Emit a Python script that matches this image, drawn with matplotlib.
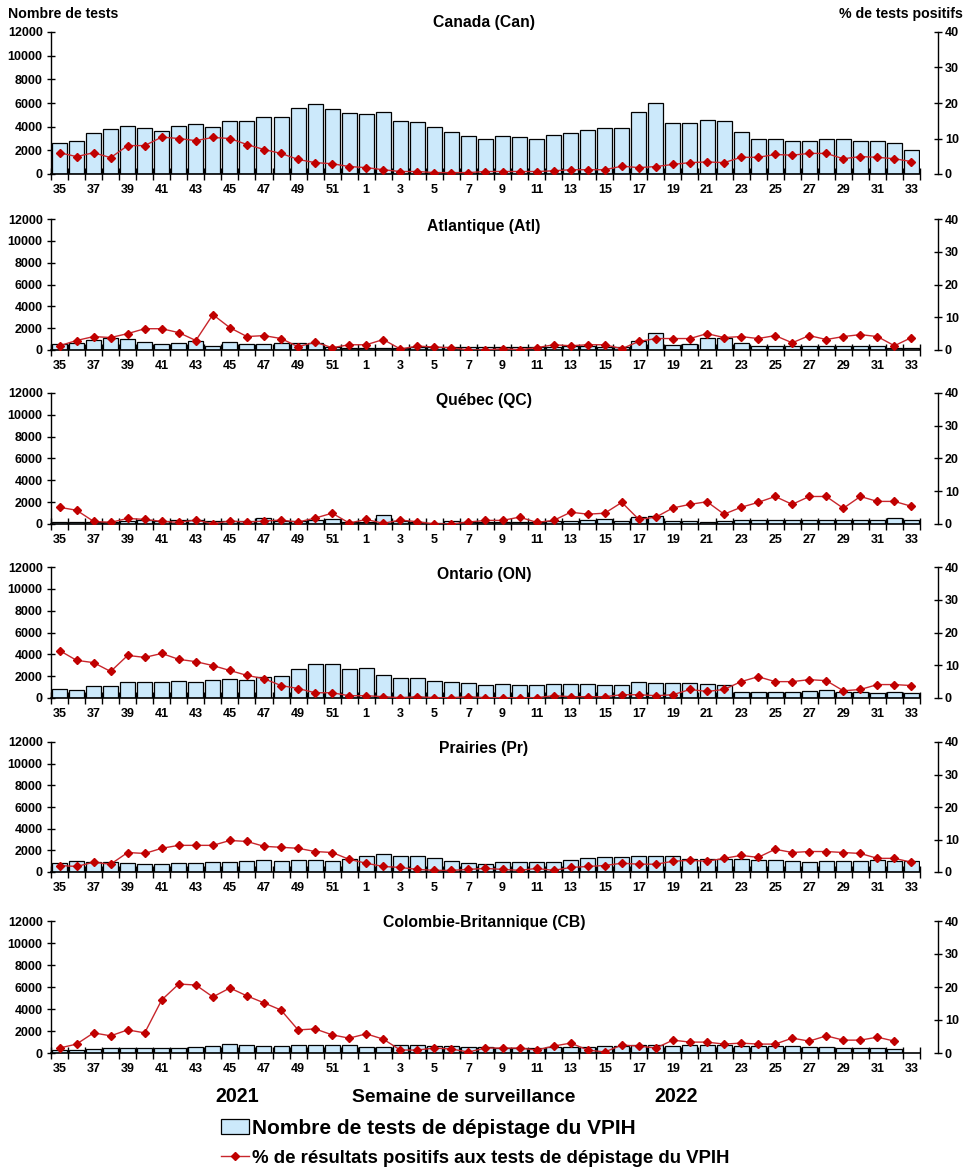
import numpy as np
import matplotlib
matplotlib.use("Agg")
import matplotlib.pyplot as plt
from matplotlib.patches import Patch
from matplotlib.lines import Line2D

plt.rcParams['font.family'] = ['Liberation Sans', 'DejaVu Sans']
plt.rcParams['font.weight'] = 'bold'

# semaines de surveillance 2021 (35-52) puis 2022 (1-33)
weeks = list(range(35, 53)) + list(range(1, 34))

can_tests = [2650, 2830, 3430, 3770, 4020, 3850, 3600, 4020, 4190, 3940, 4450, 4450, 4790, 4790,
             5550, 5890, 5470, 5130, 5040, 5210, 4450, 4360, 3940, 3510, 3170, 3000,
             3170, 3090, 3000, 3260, 3430, 3680, 3850, 3850, 5210, 5980, 4280, 4280, 4530, 4450,
             3510, 3000, 3000, 2830, 2830, 2920, 2920, 2750, 2750, 2660, 2070]
can_pct = [6.0, 4.9, 6.0, 4.6, 8.0, 8.0, 10.4, 10.0, 9.4, 10.3, 10.0, 8.3, 6.9, 5.8, 4.1, 3.2, 2.9, 2.1,
           1.8, 1.2, 0.7, 0.7, 0.4, 0.4, 0.4, 0.7, 0.7, 0.7, 0.7, 0.9, 1.2, 1.2, 1.2, 2.2, 1.8, 2.1,
           2.7, 3.2, 3.4, 3.2, 4.7, 4.7, 5.5, 5.3, 5.8, 5.8, 4.3, 4.9, 4.7, 4.3, 3.5]

atl_tests = [580, 670, 950, 1130, 1040, 760, 580, 670, 860, 400, 760, 580, 580, 670, 670, 670, 280, 200,
             150, 150, 200, 250, 250, 250, 250, 250, 300, 300, 300, 300, 350, 350, 300, 300, 860, 1590,
             490, 580, 1130, 1130, 670, 340, 340, 340, 340, 340, 340, 340, 340, 210, 210]
atl_pct = [1.3, 2.9, 4.1, 3.8, 5.0, 6.5, 6.5, 5.3, 2.9, 10.8, 6.8, 4.1, 4.4, 3.5, 1.0, 2.4, 0.7, 1.6,
           1.6, 3.2, 0.3, 1.2, 0.9, 0.7, 0.0, 0.0, 0.4, 0.1, 0.7, 1.6, 1.3, 1.6, 1.6, 0.4, 2.6, 3.5,
           3.5, 3.5, 5.0, 3.8, 4.1, 3.5, 4.4, 2.2, 4.4, 3.2, 4.1, 4.7, 4.1, 1.3, 3.8]

qc_tests = [180, 180, 180, 180, 280, 370, 280, 400, 400, 300, 300, 280, 520, 300, 300, 340, 430, 210,
            210, 800, 280, 210, 120, 280, 210, 210, 210, 180, 180, 280, 280, 340, 430, 280, 610, 730,
            280, 280, 180, 240, 400, 400, 400, 400, 400, 340, 400, 340, 400, 520, 400]
qc_pct = [5.1, 4.2, 0.8, 0.5, 1.7, 1.4, 0.8, 0.5, 1.2, 0.1, 0.9, 0.6, 0.9, 1.2, 0.6, 1.8, 3.3, 0.3,
          1.4, 0.2, 1.2, 0.7, 0.0, 0.0, 0.6, 1.1, 1.1, 2.1, 0.5, 1.1, 3.6, 3.0, 3.3, 6.6, 1.4, 2.1,
          4.9, 6.0, 6.8, 3.0, 5.1, 6.6, 8.4, 6.0, 8.4, 8.4, 4.8, 8.4, 6.9, 6.9, 5.4]

on_tests = [860, 770, 1130, 1130, 1500, 1500, 1500, 1600, 1500, 1690, 1780, 1690, 1960, 2060, 2700,
            3070, 3070, 2700, 2790, 2150, 1870, 1870, 1600, 1500, 1410, 1230, 1320, 1230, 1230, 1320,
            1320, 1320, 1230, 1230, 1500, 1410, 1410, 1410, 1320, 1230, 580, 580, 580, 580, 670, 770,
            580, 580, 490, 580, 490]
on_pct = [14.5, 11.5, 10.8, 8.1, 13.0, 12.4, 13.6, 11.8, 11.1, 9.9, 8.4, 6.9, 5.9, 3.8, 2.9, 1.6, 1.6,
          0.7, 0.7, 0.4, 0.1, 0.4, 0.1, 0.1, 0.4, 0.1, 0.1, 0.1, 0.1, 0.7, 0.4, 0.4, 0.4, 1.0, 1.0,
          0.7, 1.0, 2.6, 2.0, 2.6, 5.0, 6.5, 5.0, 5.0, 5.6, 5.3, 2.2, 2.6, 4.1, 4.1, 3.8]

pr_tests = [800, 980, 890, 890, 800, 700, 700, 800, 800, 890, 890, 980, 1070, 980, 1070, 1070, 980, 1170,
            1440, 1630, 1440, 1440, 1260, 980, 800, 700, 890, 890, 890, 890, 1070, 1260, 1350, 1350,
            1440, 1440, 1440, 1170, 1170, 1170, 1170, 1070, 1070, 980, 890, 980, 980, 980, 1070, 980, 980]
pr_pct = [2.0, 1.7, 3.0, 2.4, 6.0, 5.7, 7.3, 8.2, 8.2, 8.2, 9.7, 9.4, 7.9, 7.6, 7.3, 6.3, 6.0, 3.9,
          2.7, 1.7, 1.4, 0.8, 0.5, 0.5, 0.8, 1.1, 0.8, 0.5, 1.1, 0.5, 1.4, 1.7, 2.0, 2.7, 2.4, 2.4,
          3.3, 3.6, 3.3, 4.2, 5.1, 4.5, 7.0, 6.0, 6.3, 6.3, 6.0, 5.7, 4.2, 4.2, 3.0]

cb_tests = [270, 270, 360, 450, 450, 450, 450, 450, 550, 640, 820, 730, 640, 640, 730, 730, 730, 730,
            550, 550, 730, 730, 640, 640, 550, 550, 450, 450, 420, 550, 550, 550, 640, 640, 730, 730,
            640, 730, 730, 730, 640, 640, 640, 640, 550, 550, 450, 450, 450, 360, np.nan]
cb_pct = [1.5, 2.7, 6.1, 5.2, 7.0, 6.1, 16.1, 20.9, 20.6, 17.0, 19.7, 17.3, 15.2, 13.0, 7.0, 7.3, 5.5,
          4.5, 5.8, 4.2, 0.9, 0.9, 1.5, 1.2, 0.3, 1.5, 1.5, 1.5, 0.9, 2.1, 3.0, 0.9, 0.3, 2.4, 2.1,
          1.5, 3.9, 3.3, 3.3, 2.7, 3.0, 2.7, 2.7, 4.5, 3.6, 5.2, 3.9, 3.9, 4.8, 3.6, np.nan]

W, H = 967, 1172
BAR_COLOR = '#cce9fb'
LINE_COLOR = '#c8262c'
MARK_COLOR = '#c00000'

# (titre, tests, %, haut px, bas px, y du titre px)
panels = [
    ('Canada (Can)', can_tests, can_pct, 32, 174, 22),
    ('Atlantique (Atl)', atl_tests, atl_pct, 219, 350, 226),
    ('Québec (QC)', qc_tests, qc_pct, 393, 524, 400),
    ('Ontario (ON)', on_tests, on_pct, 567, 698, 574),
    ('Prairies (Pr)', pr_tests, pr_pct, 742, 872, 749),
    ('Colombie-Britannique (CB)', cb_tests, cb_pct, 921, 1053, 922),
]

fig = plt.figure(figsize=(W / 100, H / 100), dpi=100)
x = np.arange(len(weeks))

for title, tests, pct, top, bot, ty in panels:
    ax = fig.add_axes([51 / W, 1 - bot / H, 869 / W, (bot - top) / H])
    ax.bar(x, tests, width=0.88, color=BAR_COLOR, edgecolor='black', linewidth=0.9, zorder=2)
    ax.set_xlim(-0.5, len(weeks) - 0.5)
    ax.set_ylim(0, 12000)
    ax.set_yticks(range(0, 12001, 2000))
    ax.set_xticks(x[::2])
    ax.set_xticklabels([str(w) for w in weeks[::2]])
    ax.set_xticks(np.arange(-0.5, len(weeks)), minor=True)
    ax.tick_params(axis='x', which='major', length=0, pad=7, labelsize=9)
    ax.tick_params(axis='x', which='minor', direction='inout', length=8, width=1)
    ax.tick_params(axis='y', direction='inout', length=6, width=1, labelsize=9, pad=3)
    for s in ['top', 'right']:
        ax.spines[s].set_visible(False)
    ax.spines['left'].set_linewidth(1)
    ax.spines['bottom'].set_linewidth(1.2)

    ax2 = ax.twinx()
    ax2.plot(x, pct, color=LINE_COLOR, lw=1, marker='D', ms=4.2,
             markerfacecolor=MARK_COLOR, markeredgecolor=MARK_COLOR, zorder=3)
    ax2.set_ylim(0, 40)
    ax2.set_yticks(range(0, 41, 10))
    ax2.tick_params(axis='y', direction='inout', length=6, width=1, labelsize=9, pad=2)
    for s in ['top', 'left', 'bottom']:
        ax2.spines[s].set_visible(False)
    ax2.spines['right'].set_position(('outward', 13))
    ax2.spines['right'].set_linewidth(1)

    fig.text(484 / W, 1 - ty / H, title, ha='center', va='center', fontsize=11.3, fontweight='bold')

fig.text(8 / W, 1 - 14 / H, 'Nombre de tests', ha='left', va='center', fontsize=10.2, fontweight='bold')
fig.text(963 / W, 1 - 14 / H, '% de tests positifs', ha='right', va='center', fontsize=10.2, fontweight='bold')

fig.text(237 / W, 1 - 1097 / H, '2021', ha='center', va='center', fontsize=14.2, fontweight='bold')
fig.text(464 / W, 1 - 1097 / H, 'Semaine de surveillance', ha='center', va='center', fontsize=13.9, fontweight='bold')
fig.text(676 / W, 1 - 1097 / H, '2022', ha='center', va='center', fontsize=14.2, fontweight='bold')

handles = [Patch(facecolor=BAR_COLOR, edgecolor='black', linewidth=0.9),
           Line2D([], [], color=LINE_COLOR, lw=1, marker='D', ms=4.2,
                  markerfacecolor=MARK_COLOR, markeredgecolor=MARK_COLOR)]
leg = fig.legend(handles, ['Nombre de tests de dépistage du VPIH',
                           '% de résultats positifs aux tests de dépistage du VPIH'],
                 loc='upper left', bbox_to_anchor=(221 / W, 1 - 1119 / H), frameon=False,
                 prop={'size': 15, 'weight': 'bold'}, handlelength=1.35, handletextpad=0.15,
                 labelspacing=0.5, borderpad=0, borderaxespad=0)
leg.get_texts()[1].set_fontsize(13.4)

fig.savefig('out.png', dpi=100)
